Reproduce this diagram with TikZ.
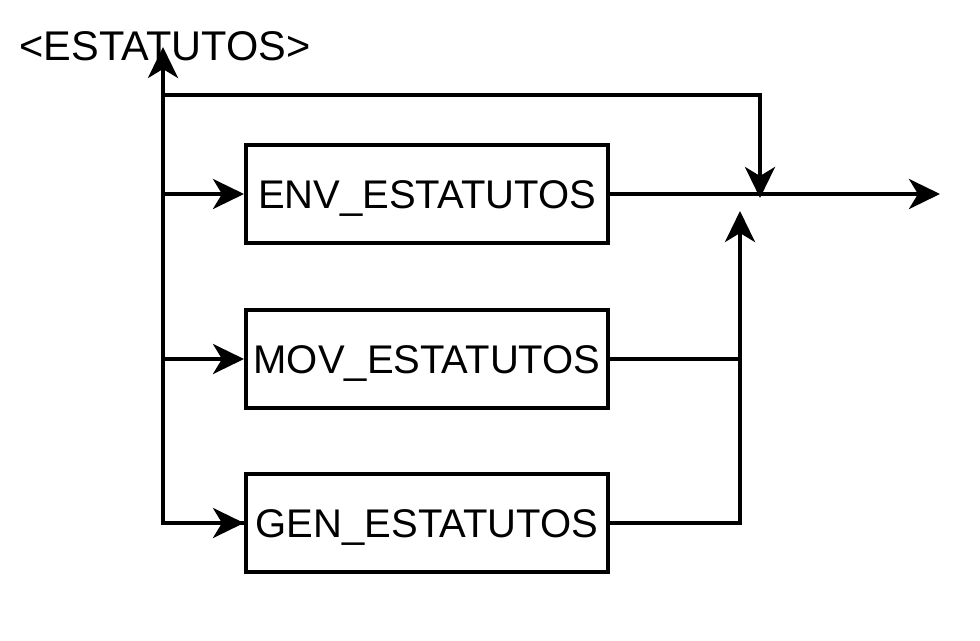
\documentclass[tikz,border=0pt]{standalone}
\usepackage{fontspec}
\setmainfont{Liberation Sans}
\usetikzlibrary{arrows.meta}

\begin{document}
\begin{tikzpicture}[x=1pt, y=-1pt, line width=4pt,
  blk/.style={draw, rectangle, minimum width=362pt, minimum height=98pt,
    inner sep=0pt, text height=29pt, text depth=0pt, font=\fontsize{40}{48}\selectfont},
  tip/.style={-{Stealth[length=31pt, width=30pt, inset=9pt]}}]
\useasboundingbox (0,0) rectangle (980,640);
\node[anchor=base, inner sep=0pt, font=\fontsize{41.5}{50}\selectfont] (lbl) at (165,60) {<ESTATUTOS>};
\node[blk] (env) at (427,194) {ENV\_ESTATUTOS};
\node[blk] (mov) at (427,359) {MOV\_ESTATUTOS};
\node[blk] (gen) at (427,523) {GEN\_ESTATUTOS};
\coordinate (up) at (163,47);
\coordinate (trunk) at (163,523);
\coordinate (bypass) at (163,95);
\coordinate (bend) at (760,95);
\coordinate (merge) at (760,198);
\coordinate (outp) at (940,194);
\coordinate (rise) at (740,523);
\coordinate (rtop) at (740,211);
% trunk and branches
\draw[tip] (gen.west) -- (trunk) -- (up);
\draw[tip] (bypass) -- (bend) -- (merge);
\draw[tip] (trunk |- env.west) -- (env.west);
\draw[tip] (trunk |- mov.west) -- (mov.west);
\draw[tip] (trunk) -- (gen.west);
% outputs
\draw[tip] (env.east) -- (outp);
\draw (mov.east) -- (rise |- mov.east);
\draw[tip] (gen.east) -- (rise) -- (rtop);
\end{tikzpicture}
\end{document}
